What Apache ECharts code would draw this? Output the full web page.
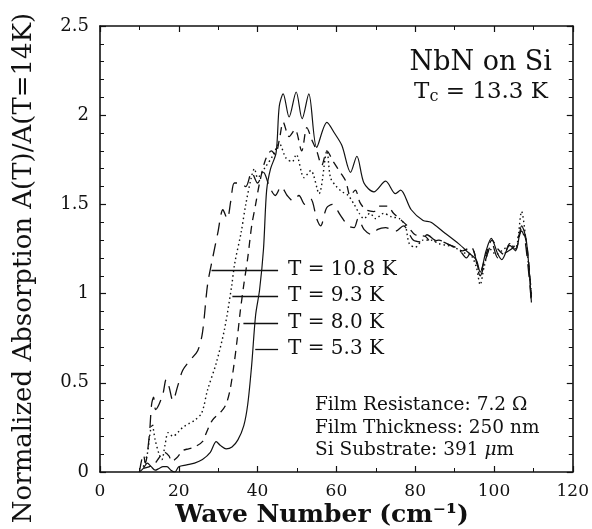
<!DOCTYPE html>
<html>
<head>
<meta charset="utf-8">
<script src="https://cdn.jsdelivr.net/npm/echarts@6/dist/echarts.min.js"></script>
<style>
  html, body { margin: 0; padding: 0; background: #fff; }
  #chart { width: 592px; height: 529px; }
</style>
</head>
<body>
<div id="chart"></div>
<script>
// tick labels
const xTicks = [0, 20, 40, 60, 80, 100, 120];
const yTicks = [0, 0.5, 1, 1.5, 2, 2.5];

// series names, in legend order
const names = ['T = 10.8 K', 'T = 9.3 K', 'T = 8.0 K', 'T = 5.3 K'];

// [wave number, normalized absorption]
const t108 = [[10,0],[10.5,0.06],[11,0.1],[11.5,0.05],[12.5,0.2],[13.1,0.38],[13.6,0.42],[14.1,0.35],[15,0.38],[16,0.44],[16.8,0.52],[17.5,0.48],[18.5,0.4],[19.7,0.48],[21,0.57],[23,0.63],[24.8,0.68],[26,0.78],[27.3,1.05],[28.6,1.2],[29.9,1.34],[31.2,1.47],[32.3,1.42],[33.2,1.52],[34.1,1.62],[35.5,1.62],[37,1.6],[38.5,1.68],[40,1.62],[41.5,1.68],[43,1.6],[44.5,1.55],[46,1.6],[47.5,1.55],[49,1.52],[50.5,1.55],[52,1.5],[53.5,1.53],[55,1.42],[56,1.38],[57.5,1.48],[59,1.5],[61,1.44],[63,1.38],[64.5,1.37],[65.5,1.42],[67,1.36],[69,1.33],[70.5,1.36],[72.5,1.37],[75,1.35],[77,1.38],[79.5,1.3],[81.5,1.29],[83,1.33],[85,1.3],[87,1.29],[89,1.27],[91,1.25],[93,1.2],[94.5,1.25],[96.5,1.1],[98,1.2],[99.5,1.28],[101,1.2],[103,1.23],[105,1.26],[107,1.35],[108,1.28],[109.5,0.95]];

const t93 = [[11,0.03],[12,0.1],[12.6,0.2],[13.2,0.27],[14,0.18],[15,0.1],[15.7,0.07],[16.5,0.15],[17.3,0.22],[18.5,0.2],[19.7,0.22],[21,0.25],[22.5,0.27],[24,0.29],[25.8,0.33],[27.3,0.46],[29.5,0.61],[31.6,0.8],[33.4,1.04],[34.2,1.17],[35.8,1.34],[37,1.5],[38.4,1.65],[39.2,1.7],[40,1.65],[42,1.71],[43.8,1.77],[45.5,1.84],[47.2,1.76],[48.8,1.74],[49.8,1.78],[51.8,1.65],[53.5,1.69],[55.6,1.56],[57.6,1.8],[58.5,1.65],[60,1.6],[61.5,1.57],[63,1.55],[64.5,1.5],[65.8,1.45],[67,1.42],[68.5,1.45],[70,1.42],[72,1.45],[74,1.43],[76,1.42],[77.5,1.38],[78.5,1.28],[80,1.26],[82,1.3],[84,1.3],[86,1.28],[88,1.27],[90,1.26],[92,1.23],[94,1.22],[95.5,1.15],[96.5,1.05],[97.5,1.15],[99,1.25],[100.5,1.22],[102,1.24],[104,1.27],[105.5,1.26],[107,1.46],[108,1.32],[109.5,1.0]];

const t80 = [[11,0.02],[12.6,0.03],[14,0.05],[15,0.08],[16.4,0.11],[17.5,0.09],[18.2,0.06],[19.5,0.08],[21,0.12],[22.5,0.13],[24,0.14],[26,0.17],[27,0.22],[28.5,0.29],[30.8,0.34],[32,0.38],[33,0.46],[34,0.6],[34.8,0.74],[35.6,0.9],[36.5,1.05],[37.5,1.2],[38.5,1.38],[39.5,1.5],[40.5,1.62],[42,1.75],[43.5,1.8],[44.5,1.78],[45.5,1.86],[46.5,1.96],[48,1.88],[49.5,1.92],[51.2,1.8],[52.5,1.93],[53.8,1.86],[55,1.8],[56.3,1.72],[57.6,1.8],[59.2,1.74],[61,1.68],[62.4,1.63],[63.5,1.55],[64.8,1.58],[66,1.51],[67.5,1.47],[69.5,1.46],[71,1.49],[73,1.49],[74.5,1.45],[76,1.42],[78,1.38],[80,1.33],[82.6,1.32],[84,1.29],[86,1.3],[88,1.28],[90,1.26],[92,1.24],[94.2,1.26],[96.5,1.12],[98,1.22],[99.5,1.3],[101,1.25],[102.5,1.22],[104,1.28],[105.5,1.25],[107,1.36],[108.3,1.28],[109.5,0.98]];

const t53 = [[10,0],[11,0.02],[12,0.05],[13,0.03],[14,0.01],[15,0.02],[16,0.03],[17,0.03],[18,0.01],[19,0],[20,0.03],[22,0.04],[24,0.05],[26,0.07],[28,0.11],[29.5,0.17],[30.5,0.15],[32,0.13],[33.5,0.14],[35,0.18],[36.5,0.26],[37.5,0.38],[38.5,0.6],[39.5,0.88],[40.5,1.02],[41.5,1.25],[42.3,1.58],[43.3,1.7],[44.7,1.79],[45.5,2.05],[46.5,2.12],[48,1.99],[49.8,2.13],[51.3,1.98],[53,2.12],[55,1.82],[57.6,1.96],[59.5,1.9],[61.4,1.83],[63.6,1.68],[65.2,1.77],[67,1.62],[69.5,1.57],[72.5,1.63],[75,1.56],[76.3,1.58],[79,1.47],[82,1.41],[84,1.4],[87.5,1.34],[91,1.28],[93.5,1.23],[95.5,1.19],[96.5,1.12],[98,1.24],[99.3,1.31],[101,1.22],[102,1.19],[104,1.27],[105.5,1.24],[107,1.38],[108.2,1.3],[109.5,0.95]];

const serif = '"DejaVu Serif", "Liberation Serif", serif';
const ink = '#111';

const chart = echarts.init(document.getElementById('chart'));

function frameAxis(extra) {
  return Object.assign({
    axisLine: { show: true, onZero: false, lineStyle: { color: ink, width: 1.6 } },
    axisTick: { show: true, inside: true, length: 6, lineStyle: { color: ink, width: 1.2 } },
    splitLine: { show: false },
    minorSplitLine: { show: false }
  }, extra);
}

// leader lines from each label back across the curves
function leader(x0, y) {
  return {
    silent: true,
    symbol: 'none',
    label: { show: false },
    lineStyle: { color: ink, width: 1.3, type: 'solid' },
    data: [[{ coord: [x0, y] }, { coord: [45.2, y] }]]
  };
}

let option = {
  animation: false,
  backgroundColor: '#fff',
  grid: { left: 100, right: 17, top: 26, bottom: 57 },
  xAxis: [
    frameAxis({
      type: 'value', min: 0, max: 120, interval: 20, position: 'bottom',
      minorTick: { show: true, splitNumber: 2, length: 4, lineStyle: { color: ink, width: 1 } },
      axisLabel: {
        margin: 11, color: ink, fontFamily: serif, fontSize: 17,
        formatter: v => xTicks.indexOf(v) >= 0 ? String(v) : ''
      }
    }),
    frameAxis({
      type: 'value', min: 0, max: 120, interval: 20, position: 'top',
      minorTick: { show: true, splitNumber: 2, length: 4, lineStyle: { color: ink, width: 1 } },
      axisLabel: { show: false }
    })
  ],
  yAxis: [
    frameAxis({
      type: 'value', min: 0, max: 2.5, interval: 0.5, position: 'left',
      minorTick: { show: true, splitNumber: 5, length: 4, lineStyle: { color: ink, width: 1 } },
      axisLabel: {
        margin: 11, color: ink, fontFamily: serif, fontSize: 18,
        formatter: v => {
          let t = yTicks.find(k => Math.abs(k - v) < 1e-6);
          return t === undefined ? '' : String(t);
        }
      }
    }),
    frameAxis({
      type: 'value', min: 0, max: 2.5, interval: 0.5, position: 'right',
      minorTick: { show: true, splitNumber: 5, length: 4, lineStyle: { color: ink, width: 1 } },
      axisLabel: { show: false }
    })
  ],
  series: [
    {
      name: names[0], type: 'line', data: t108, showSymbol: false, smooth: 0.3,
      lineStyle: { color: ink, width: 1.3, type: [13, 8] },
      markLine: leader(28.3, 1.132)
    },
    {
      name: names[1], type: 'line', data: t93, showSymbol: false, smooth: 0.3,
      lineStyle: { color: ink, width: 1.4, type: [1.5, 3] },
      markLine: leader(33.6, 0.987)
    },
    {
      name: names[2], type: 'line', data: t80, showSymbol: false, smooth: 0.3,
      lineStyle: { color: ink, width: 1.3, type: [8, 6] },
      markLine: leader(36.4, 0.835)
    },
    {
      name: names[3], type: 'line', data: t53, showSymbol: false, smooth: 0.3,
      lineStyle: { color: ink, width: 1.2, type: 'solid' },
      markLine: leader(39.4, 0.69)
    }
  ],
  graphic: [
    {
      type: 'text', x: 24, y: 268, rotation: Math.PI / 2,
      style: {
        text: 'Normalized Absorption A(T)/A(T=14K)',
        font: '26px ' + serif, fill: ink, align: 'center', verticalAlign: 'middle'
      }
    },
    {
      type: 'text', x: 322, y: 515,
      style: {
        text: 'Wave Number (cm⁻¹)',
        font: 'bold 25px ' + serif, fill: ink, align: 'center', verticalAlign: 'middle'
      }
    },
    {
      type: 'text', x: 552, y: 63,
      style: { text: 'NbN on Si', font: '27px ' + serif, fill: ink, align: 'right', verticalAlign: 'middle' }
    },
    {
      type: 'text', x: 548, y: 92,
      style: {
        text: 'T{sub|c} = 13.3 K', font: '23px ' + serif, fill: ink, align: 'right', verticalAlign: 'middle',
        rich: { sub: { font: '16px ' + serif, fill: ink, padding: [10, 0, 0, 0] } }
      }
    },
    { type: 'text', x: 288, y: 270, style: { text: names[0], font: '20px ' + serif, fill: ink, verticalAlign: 'middle' } },
    { type: 'text', x: 288, y: 296, style: { text: names[1], font: '20px ' + serif, fill: ink, verticalAlign: 'middle' } },
    { type: 'text', x: 288, y: 323, style: { text: names[2], font: '20px ' + serif, fill: ink, verticalAlign: 'middle' } },
    { type: 'text', x: 288, y: 349, style: { text: names[3], font: '20px ' + serif, fill: ink, verticalAlign: 'middle' } },
    { type: 'text', x: 315, y: 405, style: { text: 'Film Resistance: 7.2 Ω', font: '18.5px ' + serif, fill: ink, verticalAlign: 'middle' } },
    { type: 'text', x: 315, y: 428, style: { text: 'Film Thickness: 250 nm', font: '18.5px ' + serif, fill: ink, verticalAlign: 'middle' } },
    {
      type: 'text', x: 315, y: 450,
      style: {
        text: 'Si Substrate: 391 {it|μ}m', font: '18.5px ' + serif, fill: ink, verticalAlign: 'middle',
        rich: { it: { font: 'italic 18.5px ' + serif, fill: ink } }
      }
    }
  ]
};

chart.setOption(option);
</script>
</body>
</html>
